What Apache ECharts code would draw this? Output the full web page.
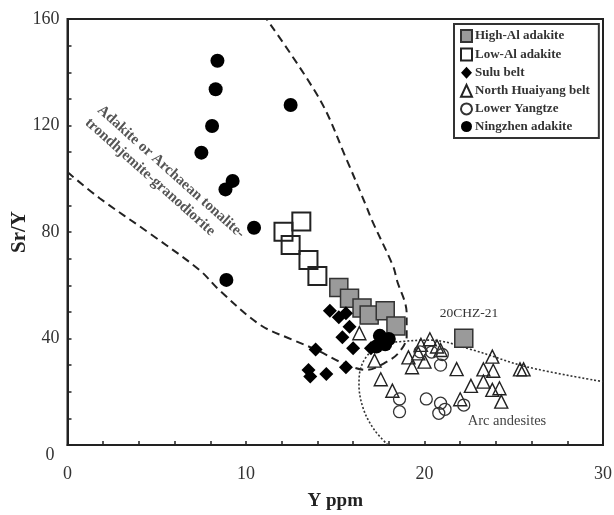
<!DOCTYPE html>
<html>
<head>
<meta charset="utf-8">
<script src="https://cdn.jsdelivr.net/npm/echarts@6/dist/echarts.min.js"></script>
<style>
html,body{margin:0;padding:0;background:#fff;}
#chart{width:614px;height:515px;}
</style>
</head>
<body>
<div id="chart"></div>
<script>
// ---- data (Y ppm, Sr/Y) ----
const highAlAdakite = [[15.2,59.2],[15.8,55.1],[16.5,51.5],[16.9,48.8],[17.8,50.4],[18.4,44.7],[22.2,40.1]];
const lowAlAdakite = [[13.1,83.9],[12.1,80.1],[12.5,75.1],[13.5,69.5],[14.0,63.5]];
const suluBelt = [[14.7,50.4],[15.2,48.0],[15.6,49.5],[15.8,44.4],[15.4,40.5],[16.0,36.3],[13.9,35.9],[15.6,29.2],[13.5,28.2],[13.6,25.7],[14.5,26.7],[17.0,36.3]];
const northHuaiyang = [[16.35,42.0],[17.2,31.7],[17.55,24.7],[18.2,20.4],[19.1,32.9],[19.3,29.2],[20.0,31.3],[19.65,34.4],[20.9,35.7],[21.8,28.5],[22.0,17.2],[19.8,37.6],[20.3,39.7],[20.7,37.0],[23.8,33.2],[23.3,28.4],[23.85,27.9],[23.3,23.8],[22.6,22.2],[23.8,20.7],[24.2,21.3],[24.3,16.3],[25.35,28.4],[25.55,28.4]];
const lowerYangtze = [[19.75,35.0],[20.9,30.0],[18.6,17.3],[18.6,12.5],[20.1,17.3],[20.9,15.7],[20.8,11.9],[21.15,13.4],[22.2,15.0],[20.4,34.9],[21.0,34.0]];
const ningzhenAdakite = [[8.4,144.3],[8.3,133.6],[8.1,119.8],[7.5,109.8],[9.25,99.2],[8.85,96.0],[10.45,81.6],[8.9,62.0],[12.5,127.7],[17.5,41.0],[18.0,39.8],[17.3,37.0],[17.8,37.8]];
// field boundaries
const adakiteField = [[0,102.5],[1.8,92.7],[4.6,79.5],[7.4,65.7],[8.5,58.2],[10.8,45.1],[12.65,39.4],[13.95,35.7],[15.45,30.7],[16.75,28.2],[17.9,31.3],[18.6,35.0],[19.0,40.7],[19.0,49.5],[18.45,62.0],[18.25,67.0],[17.05,84.5],[16.75,89.5],[15.65,107.0],[14.15,129.6],[11.15,160]];
const arcField = [[17.95,0],[17.2,5.6],[16.6,13.1],[16.33,22.5],[16.4,28.2],[16.75,33.2],[17.5,37.6],[18.6,38.8],[20.3,39.4],[22.7,35.7],[25.7,29.4],[30,23.8]];
// axis ticks / labels
const xTicks = [0, 10, 20, 30];
const yTicks = [0, 40, 80, 120, 160];

const SERIF = "'Liberation Serif','Times New Roman',serif";
const chart = echarts.init(document.getElementById('chart'), null, {renderer:'canvas'});

const option = {
  backgroundColor: '#fff',
  animation: false,
  grid: {left: 67.5, right: 11, top: 19, bottom: 70, containLabel: false, outerBoundsMode: 'none',
         show: true, borderColor: '#222', borderWidth: 2, backgroundColor: 'transparent'},
  xAxis: {
    type: 'value', min: 0, max: 30, interval: 2,
    name: 'Y ppm', nameLocation: 'middle', nameGap: 47, nameMoveOverlap: false,
    nameTextStyle: {fontFamily: SERIF, fontSize: 19, fontWeight: 'bold', color: '#222'},
    axisLine: {show: true, lineStyle: {color: '#222', width: 2}},
    axisTick: {show: true, inside: true, length: 4, lineStyle: {color: '#222', width: 1.5}},
    axisLabel: {fontFamily: SERIF, fontSize: 18, color: '#333', margin: 20,
      formatter: v => xTicks.indexOf(v) >= 0 ? String(v) : ''},
    splitLine: {show: false}
  },
  yAxis: {
    type: 'value', min: 0, max: 160, interval: 10,
    name: 'Sr/Y', nameLocation: 'middle', nameGap: 37, nameMoveOverlap: false,
    nameTextStyle: {fontFamily: SERIF, fontSize: 21, fontWeight: 'bold', color: '#222'},
    axisLine: {show: true, lineStyle: {color: '#222', width: 2}},
    axisTick: {show: true, inside: true, length: 4, lineStyle: {color: '#222', width: 1.5}},
    axisLabel: {fontFamily: SERIF, fontSize: 18, color: '#333', margin: 8,
      formatter: v => v === 0 ? '{z|0}' : (yTicks.indexOf(v) >= 0 ? String(v) : ''),
      rich: {z: {fontFamily: SERIF, fontSize: 18, color: '#333', padding: [20, 5, 0, 0]}}},
    splitLine: {show: false}
  },
  legend: {
    orient: 'vertical', left: 454, top: 24,
    padding: [5, 9, 5, 6], itemGap: 4.6, itemWidth: 11, itemHeight: 12,
    borderColor: '#333', borderWidth: 2, backgroundColor: '#fff',
    textStyle: {fontFamily: SERIF, fontSize: 13, fontWeight: 'bold', color: '#333', lineHeight: 13, padding: [0,0,0,-2]},
    data: ['High-Al adakite','Low-Al adakite','Sulu belt','North Huaiyang belt','Lower Yangtze','Ningzhen adakite']
  },
  graphic: [
    {type: 'text', x: 171, y: 172, rotation: -41.7 * Math.PI / 180, z: 5,
     style: {text: 'Adakite or Archaean tonalite-', fontFamily: SERIF, fontSize: 15, fontWeight: 'bold', fill: '#555', align: 'center', verticalAlign: 'middle'}},
    {type: 'text', x: 150, y: 177, rotation: -41.7 * Math.PI / 180, z: 5,
     style: {text: 'trondhjemite-granodiorite', fontFamily: SERIF, fontSize: 15, fontWeight: 'bold', fill: '#555', align: 'center', verticalAlign: 'middle'}},
    {type: 'text', x: 469, y: 313, z: 5,
     style: {text: '20CHZ-21', fontFamily: SERIF, fontSize: 13.5, fill: '#333', align: 'center', verticalAlign: 'middle'}},
    {type: 'text', x: 507, y: 421, z: 5,
     style: {text: 'Arc andesites', fontFamily: SERIF, fontSize: 14.5, fill: '#444', align: 'center', verticalAlign: 'middle'}}
  ],
  series: [
    {type: 'line', name: 'adakite field', data: adakiteField, smooth: 0.35, symbol: 'none', z: 1,
     lineStyle: {color: '#222', width: 2, type: [8, 5]}, silent: true},
    {type: 'line', name: 'arc field', data: arcField, smooth: 0.35, symbol: 'none', z: 1,
     lineStyle: {color: '#333', width: 1.6, type: [2, 2]}, silent: true},
    {type: 'scatter', name: 'North Huaiyang belt', data: northHuaiyang, symbol: 'triangle', symbolSize: 13, z: 3,
     itemStyle: {color: 'rgba(255,255,255,0)', borderColor: '#222', borderWidth: 1.4, opacity: 1}},
    {type: 'scatter', name: 'Lower Yangtze', data: lowerYangtze, symbol: 'circle', symbolSize: 12, z: 3,
     itemStyle: {color: 'rgba(255,255,255,0)', borderColor: '#333', borderWidth: 1.3, opacity: 1}},
    {type: 'scatter', name: 'Low-Al adakite', data: lowAlAdakite, symbol: 'rect', symbolSize: 18, z: 4,
     itemStyle: {color: 'rgba(255,255,255,0)', borderColor: '#222', borderWidth: 2, opacity: 1}},
    {type: 'scatter', name: 'High-Al adakite', data: highAlAdakite, symbol: 'rect', symbolSize: 18, z: 4,
     itemStyle: {color: '#9a9a9a', borderColor: '#333', borderWidth: 1.5, opacity: 1}},
    {type: 'scatter', name: 'Sulu belt', data: suluBelt, symbol: 'diamond', symbolSize: 14, z: 5,
     itemStyle: {color: '#000', opacity: 1}},
    {type: 'scatter', name: 'Ningzhen adakite', data: ningzhenAdakite, symbol: 'circle', symbolSize: 14, z: 5,
     itemStyle: {color: '#000', opacity: 1}}
  ]
};
chart.setOption(option);
</script>
</body>
</html>
